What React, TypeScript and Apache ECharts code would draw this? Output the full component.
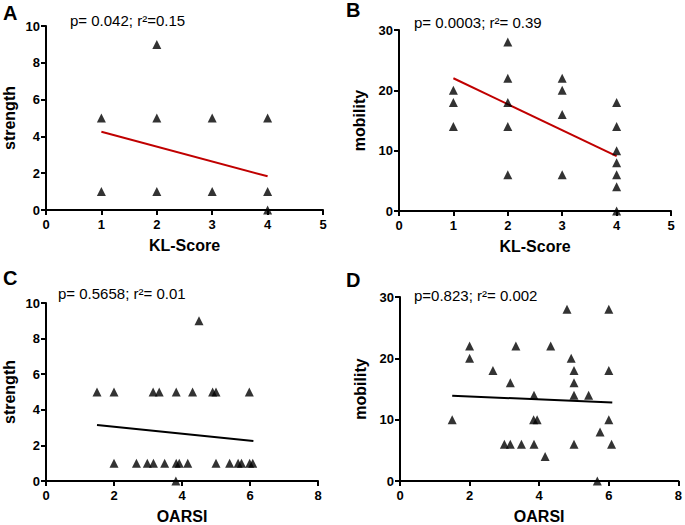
import React, { useEffect, useRef } from "react";
import * as echarts from "echarts";

// Panel A: KL-Score vs strength
const klStrength: [number, number][] = [
  [1, 5], [1, 1], [2, 9], [2, 5], [2, 1], [3, 5], [3, 1], [4, 5], [4, 1], [4, 0],
];
const klStrengthFit: [number, number][] = [[1, 4.25], [4, 1.83]];

// Panel B: KL-Score vs mobility
const klMobility: [number, number][] = [
  [1, 20], [1, 18], [1, 14],
  [2, 28], [2, 22], [2, 18], [2, 14], [2, 6],
  [3, 22], [3, 20], [3, 16], [3, 6],
  [4, 18], [4, 14], [4, 10], [4, 8], [4, 6], [4, 4], [4, 0],
];
const klMobilityFit: [number, number][] = [[1, 22], [4, 9.1]];

// Panel C: OARSI vs strength
const oarsiStrength: [number, number][] = [
  [1.5, 5], [2.0, 5], [3.15, 5], [3.33, 5], [3.83, 5], [4.31, 5], [4.9, 5], [5.0, 5], [5.98, 5],
  [4.5, 9],
  [2.0, 1], [2.66, 1], [2.98, 1], [3.16, 1], [3.49, 1], [3.83, 1], [3.92, 1], [4.17, 1],
  [5.0, 1], [5.4, 1], [5.65, 1], [5.75, 1], [5.99, 1], [6.08, 1],
  [3.82, 0],
];
const oarsiStrengthFit: [number, number][] = [[1.5, 3.15], [6.1, 2.25]];

// Panel D: OARSI vs mobility
const oarsiMobility: [number, number][] = [
  [1.5, 10], [2.0, 22], [2.0, 20], [2.67, 18], [3.17, 16], [3.33, 22], [4.33, 22],
  [4.8, 28], [4.92, 20], [5.0, 18], [5.0, 16], [5.0, 14], [5.42, 14], [6.0, 28],
  [6.0, 18], [6.0, 10], [5.75, 8], [6.08, 6], [5.67, 0], [5.0, 6], [3.85, 14],
  [3.84, 10], [3.94, 10], [3.85, 6], [3.49, 6], [3.17, 6], [3.0, 6], [4.17, 4],
];
const oarsiMobilityFit: [number, number][] = [[1.5, 13.9], [6.1, 12.8]];

const panelLetters = ["A", "B", "C", "D"];
const statTexts = [
  "p= 0.042; r²=0.15",
  "p= 0.0003; r²= 0.39",
  "p= 0.5658; r²= 0.01",
  "p=0.823; r²= 0.002",
];
const xNames = ["KL-Score", "KL-Score", "OARSI", "OARSI"];
const yNames = ["strength", "mobility", "strength", "mobility"];

const FONT = "Liberation Sans, Arial, sans-serif";

export default function App() {
  const ref = useRef<HTMLDivElement>(null);
  useEffect(() => {
    if (!ref.current) return;
    const chart = echarts.init(ref.current, null, { renderer: "svg" });

    const grids = [
      { left: 46, top: 26, width: 277, height: 184 },
      { left: 399, top: 30, width: 272, height: 181 },
      { left: 45, top: 303, width: 273, height: 181 },
      { left: 400, top: 297, width: 282, height: 185 },
    ];
    const xCfg = [
      { max: 5, interval: 1 },
      { max: 5, interval: 1 },
      { max: 8, interval: 2 },
      { max: 8, interval: 2 },
    ];
    const yCfg = [
      { max: 10, interval: 2 },
      { max: 30, interval: 10 },
      { max: 10, interval: 2 },
      { max: 30, interval: 10 },
    ];
    const yGap = [29, 32, 29, 32];

    const axisCommon = {
      axisLine: { show: true, lineStyle: { color: "#000", width: 2 } },
      axisTick: { show: true, length: 5, lineStyle: { color: "#000", width: 2 } },
      splitLine: { show: false },
      nameTextStyle: { color: "#000", fontWeight: "bold", fontSize: 16, fontFamily: FONT },
      nameLocation: "middle",
    };

    const scatterSets = [klStrength, klMobility, oarsiStrength, oarsiMobility];
    const fitSets = [klStrengthFit, klMobilityFit, oarsiStrengthFit, oarsiMobilityFit];
    const fitColors = ["#c00000", "#c00000", "#000", "#000"];

    const series: any[] = [];
    scatterSets.forEach((d, i) => {
      series.push({
        type: "scatter",
        xAxisIndex: i,
        yAxisIndex: i,
        data: d,
        symbol: "triangle",
        symbolSize: 9,
        itemStyle: { color: "#000" },
        clip: false,
        z: 5,
      });
      series.push({
        type: "line",
        xAxisIndex: i,
        yAxisIndex: i,
        data: fitSets[i],
        showSymbol: false,
        symbol: "none",
        lineStyle: { color: fitColors[i], width: 2 },
        z: 4,
      });
    });

    const letterPos = [
      { x: 3, y: 3 },
      { x: 346, y: 0 },
      { x: 3, y: 268 },
      { x: 346, y: 270 },
    ];
    const statPos = [
      { x: 70, y: 13 },
      { x: 414, y: 15 },
      { x: 58, y: 286 },
      { x: 414, y: 288 },
    ];

    const graphic: any[] = [];
    panelLetters.forEach((t, i) => {
      graphic.push({
        type: "text",
        left: letterPos[i].x,
        top: letterPos[i].y,
        style: { text: t, fontSize: 20, fontWeight: "bold", fontFamily: FONT, fill: "#000" },
      });
      graphic.push({
        type: "text",
        left: statPos[i].x,
        top: statPos[i].y,
        style: { text: statTexts[i], fontSize: 15, fontFamily: FONT, fill: "#000" },
      });
    });

    chart.setOption({
      animation: false,
      backgroundColor: "#fff",
      grid: grids,
      xAxis: grids.map((_, i) => ({
        ...axisCommon,
        type: "value",
        gridIndex: i,
        min: 0,
        max: xCfg[i].max,
        interval: xCfg[i].interval,
        name: xNames[i],
        nameGap: 27,
        axisLabel: { color: "#000", fontWeight: "bold", fontSize: 13, fontFamily: FONT, margin: 8 },
      })),
      yAxis: grids.map((_, i) => ({
        ...axisCommon,
        type: "value",
        gridIndex: i,
        min: 0,
        max: yCfg[i].max,
        interval: yCfg[i].interval,
        name: yNames[i],
        nameGap: yGap[i],
        axisLabel: { color: "#000", fontWeight: "bold", fontSize: 13, fontFamily: FONT, margin: 6 },
      })),
      series,
      graphic,
    });
    return () => chart.dispose();
  }, []);
  return (
    <div
      ref={ref}
      style={{ position: "absolute", left: 0, top: 0, width: 685, height: 525 }}
    />
  );
}
